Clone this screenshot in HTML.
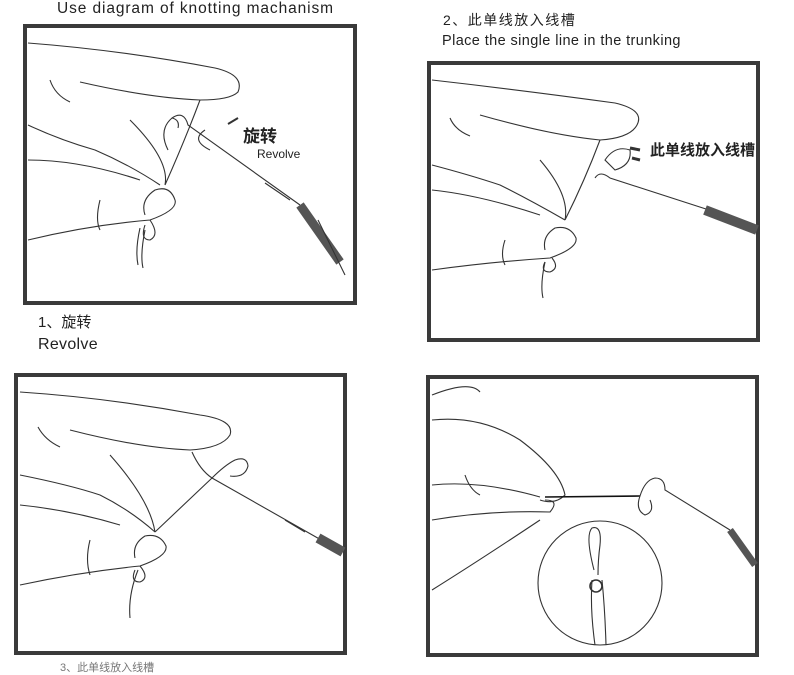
<!DOCTYPE html>
<html><head><meta charset="utf-8"><style>
html,body{margin:0;padding:0;background:#fff;}
body{width:794px;height:667px;overflow:hidden;position:relative;font-family:"Liberation Sans","Noto Sans CJK SC",sans-serif;color:#222;}
.t{position:absolute;white-space:nowrap;}
svg{position:absolute;left:0;top:0;}
</style></head><body>
<svg width="794" height="667" viewBox="0 0 794 667" fill="none" stroke="#333" stroke-width="1.1">
<rect x="25" y="26" width="330" height="277" stroke="#3a3a3a" stroke-width="4"/>
<rect x="429" y="63" width="329" height="277" stroke="#3a3a3a" stroke-width="4"/>
<rect x="16" y="375" width="329" height="278" stroke="#3a3a3a" stroke-width="4"/>
<rect x="428" y="377" width="329" height="278" stroke="#3a3a3a" stroke-width="4"/>

<g>
<path d="M28 43 Q120 50 215 68 Q245 75 238 92 Q230 100 200 100 Q150 98 80 82"/>
<path d="M50 80 Q55 95 70 102 M28 125 Q60 140 95 150 Q130 165 160 185 M28 160 Q80 160 140 180"/>
<path d="M130 120 Q170 160 165 185 M200 100 Q185 140 165 185"/>
<path d="M28 240 Q90 225 150 220 Q178 210 175 200 Q170 185 155 190 Q140 200 145 215 M150 220 Q160 235 150 240 Q140 240 145 225"/>
<path d="M100 200 Q95 220 100 230 M140 228 Q135 250 138 265 M145 230 Q140 255 143 268"/>
<path d="M168 150 Q158 130 172 118 Q184 110 188 125 L300 205 M172 118 Q180 120 178 128"/>
<path d="M205 130 Q190 140 210 150"/>
<path d="M300 205 L340 262" stroke-width="9" stroke="#555"/>
<path d="M265 183 L290 200 M318 220 L345 275"/>
<path d="M228 124 L238 118" stroke-width="2"/>
</g>
<g>
<path d="M432 80 Q520 90 615 103 Q645 110 637 125 Q630 138 600 140 Q550 135 480 115"/>
<path d="M450 118 Q455 130 470 136 M432 165 Q470 175 500 185 Q530 200 565 220 M432 190 Q480 195 540 215"/>
<path d="M540 160 Q570 195 565 220 M600 140 Q585 180 565 220"/>
<path d="M432 270 Q490 262 550 258 Q578 248 576 238 Q570 225 555 228 Q542 236 545 250 M552 258 Q560 268 550 272 Q540 272 545 262"/>
<path d="M505 240 Q500 255 505 265 M545 262 Q540 285 543 298"/>
<path d="M605 160 Q615 145 630 150 Q632 165 615 170 Z M595 178 Q600 170 610 178 L740 220"/>
<path d="M705 210 L757 230" stroke-width="10" stroke="#555"/>
<path d="M640 150 L630 148 M640 160 L632 158" stroke-width="3"/>
</g>
<g>
<path d="M20 392 Q110 398 200 415 Q235 420 230 435 Q222 448 190 450 Q140 448 70 430"/>
<path d="M38 427 Q45 440 60 447 M20 475 Q70 485 100 495 Q130 510 155 532 M20 505 Q70 510 120 525"/>
<path d="M110 455 Q150 500 155 532 M192 452 Q200 470 212 478"/>
<path d="M20 585 Q80 572 140 566 Q168 556 166 546 Q160 533 145 536 Q132 544 135 558 M140 566 Q150 578 140 582 Q130 582 135 570"/>
<path d="M90 540 Q85 560 90 575 M138 570 Q128 595 130 618"/>
<path d="M155 532 L212 478 M212 478 Q225 465 235 460 Q247 456 248 466 Q245 478 230 476 M212 478 L330 545"/>
<path d="M318 538 L343 552" stroke-width="10" stroke="#555"/>
<path d="M285 520 L305 532"/>
</g>
<g>
<path d="M432 395 Q470 380 480 392 M432 420 Q480 415 520 440 Q560 470 565 495 Q555 505 540 500"/>
<path d="M432 485 Q480 480 540 497 M465 475 Q470 490 480 495 M432 520 Q490 510 550 512 Q560 500 545 500"/>
<path d="M432 590 Q480 560 540 520"/>
<path d="M545 497 L640 496" stroke-width="1.6" stroke="#111"/>
<path d="M640 496 Q645 480 655 478 Q665 478 665 490 L730 530 M640 496 Q635 510 645 515 Q655 512 650 500"/>
<path d="M730 530 L755 565" stroke-width="7" stroke="#555"/>
<circle cx="600" cy="583" r="62"/>
<path d="M594 570 Q585 535 592 528 Q602 525 600 545 Q598 560 598 575 M592 580 Q590 610 595 645 M602 580 Q605 610 606 645"/>
<circle cx="596" cy="586" r="6" stroke-width="1.6"/>
</g>
</svg>
<div class="t" style="left:57px;top:0px;font-size:15.5px;letter-spacing:0.9px;">Use diagram of knotting machanism</div>
<div class="t" style="left:243px;top:122px;font-size:17px;font-weight:bold;">旋转</div>
<div class="t" style="left:257px;top:147px;font-size:12px;">Revolve</div>
<div class="t" style="left:38px;top:311px;font-size:15px;">1、旋转</div>
<div class="t" style="left:38px;top:336px;font-size:16px;letter-spacing:0.3px;">Revolve</div>
<div class="t" style="left:443px;top:10px;font-size:14px;letter-spacing:1.5px;">2、此单线放入线槽</div>
<div class="t" style="left:442px;top:33px;font-size:14.5px;letter-spacing:0.4px;">Place the single line in the trunking</div>
<div class="t" style="left:650px;top:139px;font-size:15px;font-weight:bold;">此单线放入线槽</div>
<div class="t" style="left:60px;top:659px;font-size:11px;color:#777;">3、此单线放入线槽</div>
</body></html>
